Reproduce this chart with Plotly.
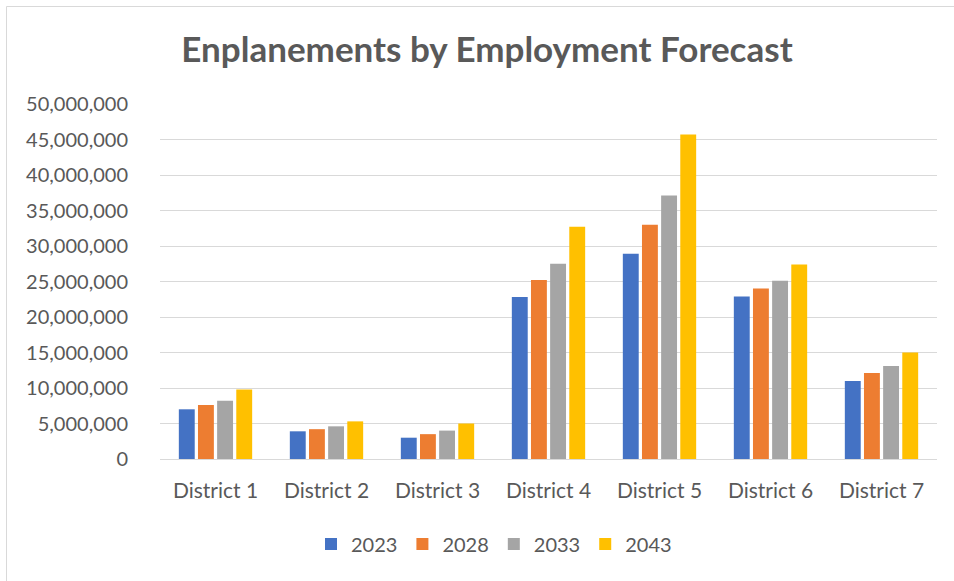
import plotly.graph_objects as go

categories = ["District 1", "District 2", "District 3", "District 4", "District 5", "District 6", "District 7"]
series_names = ["2023", "2028", "2033", "2043"]
v2023 = [7.0e6, 3.9e6, 3.0e6, 22.8e6, 28.9e6, 22.9e6, 11.0e6]
v2028 = [7.6e6, 4.2e6, 3.5e6, 25.2e6, 33.0e6, 24.0e6, 12.1e6]
v2033 = [8.2e6, 4.6e6, 4.0e6, 27.5e6, 37.1e6, 25.1e6, 13.1e6]
v2043 = [9.8e6, 5.3e6, 5.0e6, 32.7e6, 45.7e6, 27.4e6, 15.0e6]
tick_vals = [0, 5e6, 10e6, 15e6, 20e6, 25e6, 30e6, 35e6, 40e6, 45e6, 50e6]
tick_text = ["0", "5,000,000", "10,000,000", "15,000,000", "20,000,000", "25,000,000",
             "30,000,000", "35,000,000", "40,000,000", "45,000,000", "50,000,000"]

colors = ["#4472C4", "#ED7D31", "#A5A5A5", "#FFC000"]
values = [v2023, v2028, v2033, v2043]

W, H = 954, 581
L, R, T, B = 160, 17, 104, 122
pw, ph = W - L - R, H - T - B

fig = go.Figure()
for name, vals, c in zip(series_names, values, colors):
    fig.add_trace(go.Bar(x=categories, y=vals, name=name, marker=dict(color=c, line=dict(width=0))))

def px_x(p):
    return (p - L) / pw

def px_y(p):
    return (H - B - p) / ph

fig.update_layout(
    width=W, height=H,
    margin=dict(l=L, r=R, t=T, b=B, autoexpand=False),
    paper_bgcolor="white", plot_bgcolor="white",
    barmode="group", bargap=0.31, bargroupgap=0.17,
    font=dict(family="Lato", size=20, color="#595959"),
    title=dict(text="<b>Enplanements by Employment Forecast</b>",
               x=487 / W, xanchor="center",
               y=1 - 50 / H, yanchor="middle",
               font=dict(family="Lato", size=35, color="#595959")),
    xaxis=dict(showgrid=False, showline=True, linecolor="#D9D9D9", linewidth=1,
               ticks="", tickfont=dict(size=21, color="#595959"), ticklabelstandoff=13),
    yaxis=dict(range=[0, 50e6], tickvals=tick_vals, ticktext=tick_text,
               showgrid=True, gridcolor="#D9D9D9", gridwidth=1, zeroline=False,
               showline=False, ticks="", tickfont=dict(size=20, color="#595959"),
               ticklabelstandoff=31),
    legend=dict(orientation="h", x=px_x(494), xanchor="center", y=px_y(544), yanchor="middle",
                font=dict(size=20, color="#595959"), itemwidth=30, traceorder="normal"),
    showlegend=True,
)

fig.add_shape(type="rect", xref="paper", yref="paper",
              x0=px_x(6.5), x1=px_x(970), y0=px_y(600), y1=px_y(6.5),
              line=dict(color="#D9D9D9", width=1), fillcolor="rgba(0,0,0,0)", layer="below")

fig.write_html("out.html", config={"displayModeBar": False},
               post_script="document.body.style.margin='0';document.body.style.overflow='hidden';")
